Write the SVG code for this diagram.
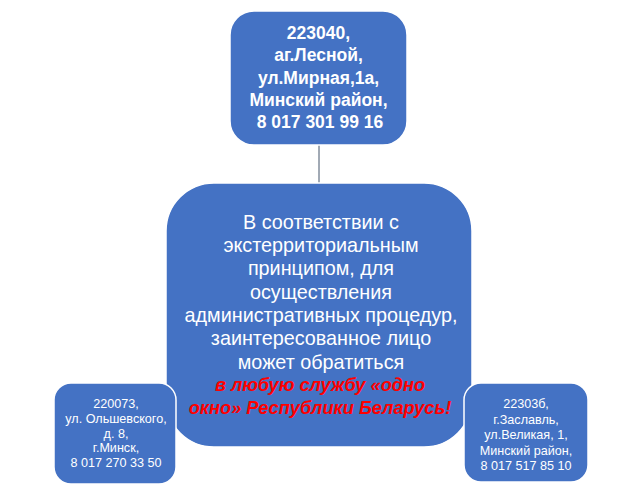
<svg xmlns="http://www.w3.org/2000/svg" width="623" height="499" viewBox="0 0 623 499">
<style>
.box{fill:#4472C4;stroke:#FFFFFF;stroke-width:1.5}
.t{font-family:"Liberation Sans",Arial,sans-serif;fill:#FFFFFF;text-anchor:middle}
.top{font-size:17.5px;font-weight:bold}
.mid{font-size:19.8px}
.red{font-size:18.2px;font-weight:bold;font-style:italic;fill:#FF0000}
.sm{font-size:12.6px}
.conn{stroke:#44546A;stroke-width:1;fill:none}
</style>
<rect width="623" height="499" fill="#FFFFFF"/>
<g id="connectors">
<line class="conn" x1="319" y1="145" x2="319" y2="183"/>
</g>
<g id="node-top">
<rect class="box" x="230" y="11" width="177" height="134" rx="24" ry="24"/>
<text class="t top" x="318.5" y="39">223040,</text>
<text class="t top" x="318.5" y="61">аг.Лесной,</text>
<text class="t top" x="318.5" y="84">ул.Мирная,1а,</text>
<text class="t top" x="318.5" y="106">Минский район,</text>
<text class="t top" x="320" y="128">8 017 301 99 16</text>
</g>
<g id="node-center">
<rect class="box" x="166" y="183" width="306" height="264" rx="48" ry="48"/>
<text class="t mid" x="321" y="229">В соответствии с</text>
<text class="t mid" x="321" y="252">экстерриториальным</text>
<text class="t mid" x="321" y="275">принципом, для</text>
<text class="t mid" x="321" y="299">осуществления</text>
<text class="t mid" x="321" y="322">административных процедур,</text>
<text class="t mid" x="321" y="345">заинтересованное лицо</text>
<text class="t mid" x="321" y="369">может обратиться</text>
<text class="t red" x="320" y="391">в любую службу «одно</text>
<text class="t red" x="320" y="414">окно» Республики Беларусь!</text>
</g>
<g id="node-left">
<rect class="box" x="54" y="383" width="122" height="101" rx="17" ry="17"/>
<text class="t sm" x="116" y="407.5">220073,</text>
<text class="t sm" x="116" y="422.5">ул. Ольшевского,</text>
<text class="t sm" x="116" y="437.5">д. 8,</text>
<text class="t sm" x="116" y="452">г.Минск,</text>
<text class="t sm" x="116" y="466.5">8 017 270 33 50</text>
</g>
<g id="node-right">
<rect class="box" x="464" y="383" width="124" height="99" rx="17" ry="17"/>
<text class="t sm" x="526" y="408">22303б,</text>
<text class="t sm" x="526" y="423.5">г.Заславль,</text>
<text class="t sm" x="526" y="439">ул.Великая, 1,</text>
<text class="t sm" x="526" y="454.5">Минский район,</text>
<text class="t sm" x="526" y="469.5">8 017 517 85 10</text>
</g>
</svg>
